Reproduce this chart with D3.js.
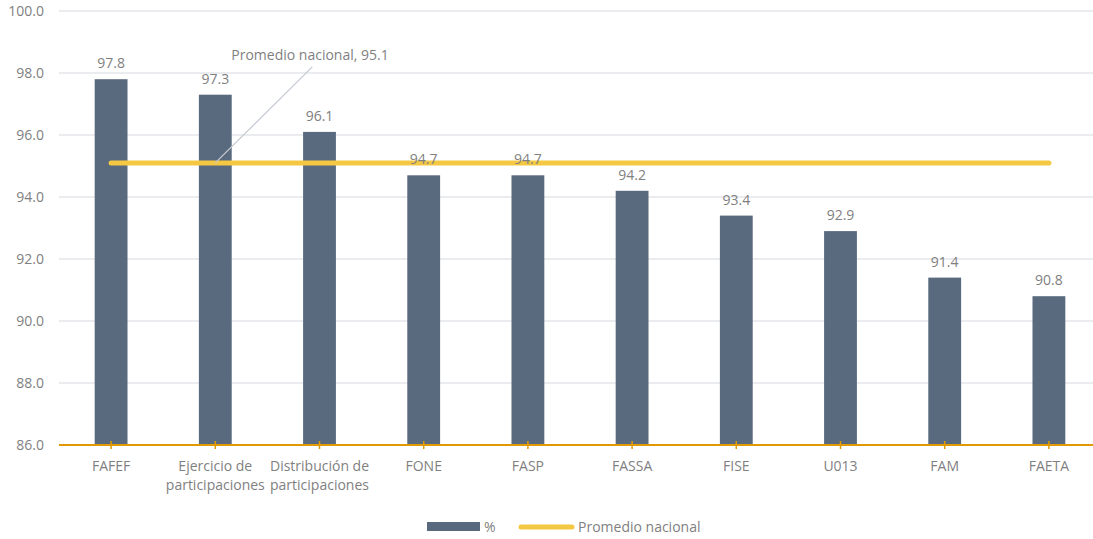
<!DOCTYPE html>
<html><head><meta charset="utf-8">
<script src="https://cdn.jsdelivr.net/npm/d3@7"></script>
<style>body{margin:0;background:#fff}svg{display:block}text{font-family:"Open Sans",sans-serif;fill:#7f7f7f}</style>
</head><body><svg id="c" width="1093" height="539"></svg>
<script>
const categories = [["FAFEF"],["Ejercicio de","participaciones"],["Distribución de","participaciones"],["FONE"],["FASP"],["FASSA"],["FISE"],["U013"],["FAM"],["FAETA"]];
const values = [97.8,97.3,96.1,94.7,94.7,94.2,93.4,92.9,91.4,90.8];
const promedio = 95.1;
const yTicks = [86,88,90,92,94,96,98,100];
const names = categories.map(c=>c.join(" "));

const svg = d3.select("#c");
const m = {l:59, r:1101, t:11, b:445};
const x = d3.scaleBand().domain(names).range([m.l,m.r]).paddingInner(0.685).paddingOuter(0.3425);
const y = d3.scaleLinear().domain([86,100]).range([m.b,m.t]);
const fs = "14px";

// grid
svg.append("g").selectAll("line").data(yTicks.slice(1)).join("line")
  .attr("x1",m.l).attr("x2",m.r).attr("y1",d=>y(d)).attr("y2",d=>y(d))
  .attr("stroke","#e3e6ea").attr("stroke-width",1.5);
svg.append("g").selectAll("text").data(yTicks).join("text")
  .attr("x",44).attr("y",d=>y(d)).attr("dy","0.35em").attr("text-anchor","end")
  .style("font-size",fs).text(d=>d.toFixed(1));

// bars
svg.append("g").selectAll("rect").data(values).join("rect")
  .attr("x",(d,i)=>x(names[i])).attr("width",x.bandwidth())
  .attr("y",d=>y(d)).attr("height",d=>y(86)-y(d)).attr("fill","#5a6a7e");

// axis
svg.append("line").attr("x1",m.l).attr("x2",m.r).attr("y1",m.b).attr("y2",m.b)
  .attr("stroke","#e09a00").attr("stroke-width",2);
svg.append("g").selectAll("line").data(names).join("line")
  .attr("x1",d=>x(d)+x.bandwidth()/2).attr("x2",d=>x(d)+x.bandwidth()/2)
  .attr("y1",m.b-4).attr("y2",m.b+4).attr("stroke","#e09a00").attr("stroke-width",1.5);
const cl = svg.append("g").selectAll("text").data(categories).join("text")
  .attr("text-anchor","middle").style("font-size",fs)
  .attr("transform",(d,i)=>`translate(${x(names[i])+x.bandwidth()/2},0)`);
cl.selectAll("tspan").data(d=>d).join("tspan").attr("x",0).attr("y",(d,j)=>471+j*19).text(d=>d);

// average line
const cx0 = x(names[0])+x.bandwidth()/2, cx1 = x(names[names.length-1])+x.bandwidth()/2;
svg.append("line").attr("x1",cx0).attr("x2",cx1).attr("y1",y(promedio)).attr("y2",y(promedio))
  .attr("stroke","#f4c842").attr("stroke-width",5).attr("stroke-linecap","round");

// bar labels
svg.append("g").selectAll("text").data(values).join("text")
  .attr("x",(d,i)=>x(names[i])+x.bandwidth()/2).attr("y",d=>y(d)-11)
  .attr("text-anchor","middle").style("font-size",fs).text(d=>d.toFixed(1));

// annotation
const ax = x(names[1])+x.bandwidth()/2;
svg.append("line").attr("x1",ax).attr("y1",y(promedio)).attr("x2",ax+97).attr("y2",y(promedio)-96)
  .attr("stroke","#c3cad2").attr("stroke-width",1.3);
svg.append("text").attr("x",ax+16).attr("y",y(promedio)-103).style("font-size",fs)
  .text("Promedio nacional, "+promedio.toFixed(1));

// legend
const lg = svg.append("g");
lg.append("rect").attr("x",427).attr("y",522).attr("width",53).attr("height",9).attr("fill","#5a6a7e");
lg.append("text").attr("x",484).attr("y",527).attr("dy","0.35em").style("font-size",fs).text("%");
lg.append("line").attr("x1",521).attr("x2",572).attr("y1",527).attr("y2",527)
  .attr("stroke","#f4c842").attr("stroke-width",5).attr("stroke-linecap","round");
lg.append("text").attr("x",578).attr("y",527).attr("dy","0.35em").style("font-size",fs).text("Promedio nacional");
</script></body></html>
